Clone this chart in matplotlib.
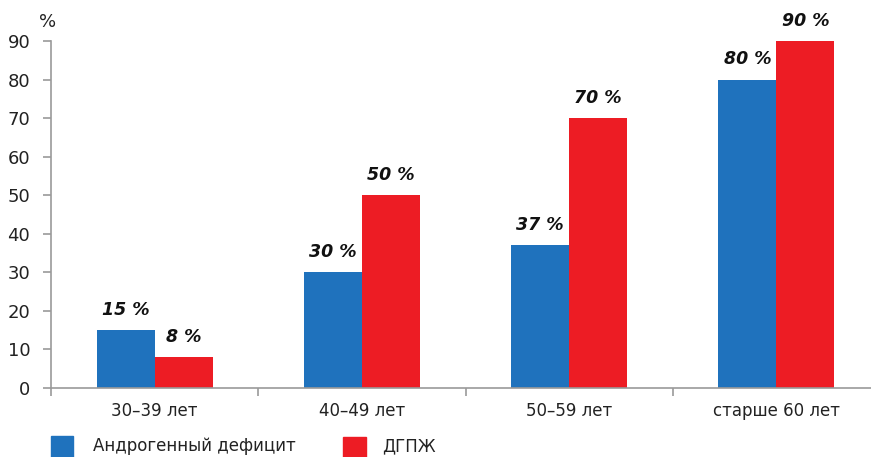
import matplotlib
matplotlib.use("Agg")
import matplotlib.pyplot as plt
import numpy as np

categories = ["30–39 лет", "40–49 лет", "50–59 лет", "старше 60 лет"]
androgen = [15, 30, 37, 80]
dgpzh = [8, 50, 70, 90]
series_names = ["Андрогенный дефицит", "ДГПЖ"]
yticks = [0, 10, 20, 30, 40, 50, 60, 70, 80, 90]

blue = "#1f72bd"
red = "#ed1c24"
grey = "#9a9a9a"

plt.rcParams['font.family'] = ['DejaVu Sans']

W, H = 871, 457
fig = plt.figure(figsize=(W / 100, H / 100), dpi=100)
ax = fig.add_axes([51 / W, 69 / H, (880 - 51) / W, (388 - 41) / H])

x = np.arange(len(categories))
bw = 0.28
b1 = ax.bar(x - bw / 2, androgen, bw, color=blue, label=series_names[0])
b2 = ax.bar(x + bw / 2, dgpzh, bw, color=red, label=series_names[1])

for bars, vals in ((b1, androgen), (b2, dgpzh)):
    for r, v in zip(bars, vals):
        ax.annotate(f"{v} %", (r.get_x() + r.get_width() / 2, v),
                    xytext=(0, 8), textcoords="offset points",
                    ha="center", va="bottom", fontsize=12.5,
                    fontweight="bold", fontstyle="italic", color="#111111")

ax.set_xlim(-0.5, len(categories) - 0.5)
ax.set_ylim(0, 90)
ax.set_yticks(yticks)
ax.set_yticklabels([str(t) for t in yticks], fontsize=13, color="#222222")
ax.set_xticks(x)
ax.set_xticklabels(categories, fontsize=12, color="#222222")
ax.tick_params(axis="x", which="major", length=0, pad=10)
ax.set_xticks(np.arange(-0.5, len(categories) + 0.5, 1), minor=True)
ax.tick_params(axis="x", which="minor", length=6, color=grey, width=1.2, direction="out")
ax.tick_params(axis="y", length=6, color=grey, width=1.2, pad=9)

for s in ("top", "right"):
    ax.spines[s].set_visible(False)
for s in ("left", "bottom"):
    ax.spines[s].set_color(grey)
    ax.spines[s].set_linewidth(1.2)

fig.text(48 / W, 1 - 22 / H, "%", fontsize=13, ha="center", va="center", color="#222222")

# legend
fig.patches.append(plt.Rectangle((51 / W, 0), 22 / W, 21 / H, transform=fig.transFigure,
                                 color=blue, figure=fig))
fig.text(93 / W, 1 - 446 / H, series_names[0], fontsize=12, va="center", color="#222222")
fig.patches.append(plt.Rectangle((343 / W, 0), 23 / W, 20 / H, transform=fig.transFigure,
                                 color=red, figure=fig))
fig.text(382 / W, 1 - 446 / H, series_names[1], fontsize=12, va="center", color="#222222")

fig.savefig("out.png", dpi=100)
